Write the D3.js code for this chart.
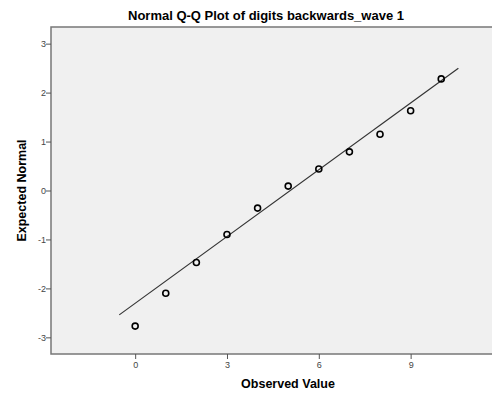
<!DOCTYPE html>
<html>
<head>
<meta charset="utf-8">
<script src="https://cdn.jsdelivr.net/npm/d3@7"></script>
<style>
  body { margin: 0; background: #fff; }
  svg { display: block; }
  text { font-family: "Liberation Sans", Arial, sans-serif; }
</style>
</head>
<body>
<div id="viz"></div>
<script>
// data
var observed = [0, 1, 2, 3, 4, 5, 6, 7, 8, 9, 10];
var expected = [-2.77, -2.10, -1.47, -0.90, -0.36, 0.09, 0.44, 0.79, 1.15, 1.63, 2.28];
var lineX = [-0.52, 10.56];
var lineMean = 5.07;
var lineSd = 2.2;
var xTicks = [0, 3, 6, 9];
var yTicks = [-3, -2, -1, 0, 1, 2, 3];
var titleText = 'Normal Q-Q Plot of digits backwards_wave 1';

// plot box (note: "top" is taken by window.top)
var W = 492, H = 396;
var plotLeft = 51, plotTop = 27, plotBottom = 354, plotRight = 530;

var svg = d3.select('#viz').append('svg')
  .attr('width', W)
  .attr('height', H);

var x = d3.scaleLinear().domain([-2.75, 12.9]).range([plotLeft, plotRight]);
var y = d3.scaleLinear().domain([-3.34, 3.34]).range([plotBottom, plotTop]);

// plot background
svg.append('rect')
  .attr('x', plotLeft).attr('y', plotTop)
  .attr('width', plotRight - plotLeft).attr('height', plotBottom - plotTop)
  .attr('fill', '#f0f0f0')
  .attr('stroke', '#777')
  .attr('stroke-width', 1.5);

// axes, plain hyphen for negatives like the original
var fmt = function (d) { return String(d); };
var yAxis = svg.append('g')
  .attr('transform', 'translate(' + plotLeft + ',0)')
  .call(d3.axisLeft(y).tickValues(yTicks).tickSize(5).tickSizeOuter(0).tickFormat(fmt));
var xAxis = svg.append('g')
  .attr('transform', 'translate(0,' + plotBottom + ')')
  .call(d3.axisBottom(x).tickValues(xTicks).tickSize(5).tickSizeOuter(0).tickFormat(fmt));

[xAxis, yAxis].forEach(function (g) {
  g.select('.domain').remove();
  g.selectAll('.tick line').attr('stroke', '#555');
  g.selectAll('.tick text')
    .attr('fill', '#444')
    .style('font-size', '9px')
    .style('font-family', '"Liberation Sans", Arial, sans-serif');
});
xAxis.selectAll('.tick text').attr('dy', '0.95em').attr('y', 5);
yAxis.selectAll('.tick text').attr('x', -5);

// reference line
svg.append('line')
  .attr('x1', x(lineX[0])).attr('y1', y((lineX[0] - lineMean) / lineSd))
  .attr('x2', x(lineX[1])).attr('y2', y((lineX[1] - lineMean) / lineSd))
  .attr('stroke', '#333')
  .attr('stroke-width', 1.2);

// points
svg.selectAll('.pt')
  .data(observed)
  .enter()
  .append('circle')
  .attr('class', 'pt')
  .attr('cx', function (d) { return x(d); })
  .attr('cy', function (d, i) { return y(expected[i]); })
  .attr('r', 3)
  .attr('fill', 'none')
  .attr('stroke', '#000')
  .attr('stroke-width', 1.6);

// titles
svg.append('text')
  .attr('x', 266).attr('y', 20)
  .attr('text-anchor', 'middle')
  .style('font-size', '13px')
  .style('font-weight', 'bold')
  .text(titleText);

svg.append('text')
  .attr('x', 288).attr('y', 388)
  .attr('text-anchor', 'middle')
  .style('font-size', '12.5px')
  .style('font-weight', 'bold')
  .text('Observed Value');

svg.append('text')
  .attr('transform', 'translate(26,' + (plotTop + plotBottom) / 2 + ') rotate(-90)')
  .attr('text-anchor', 'middle')
  .style('font-size', '12.5px')
  .style('font-weight', 'bold')
  .text('Expected Normal');
</script>
</body>
</html>
